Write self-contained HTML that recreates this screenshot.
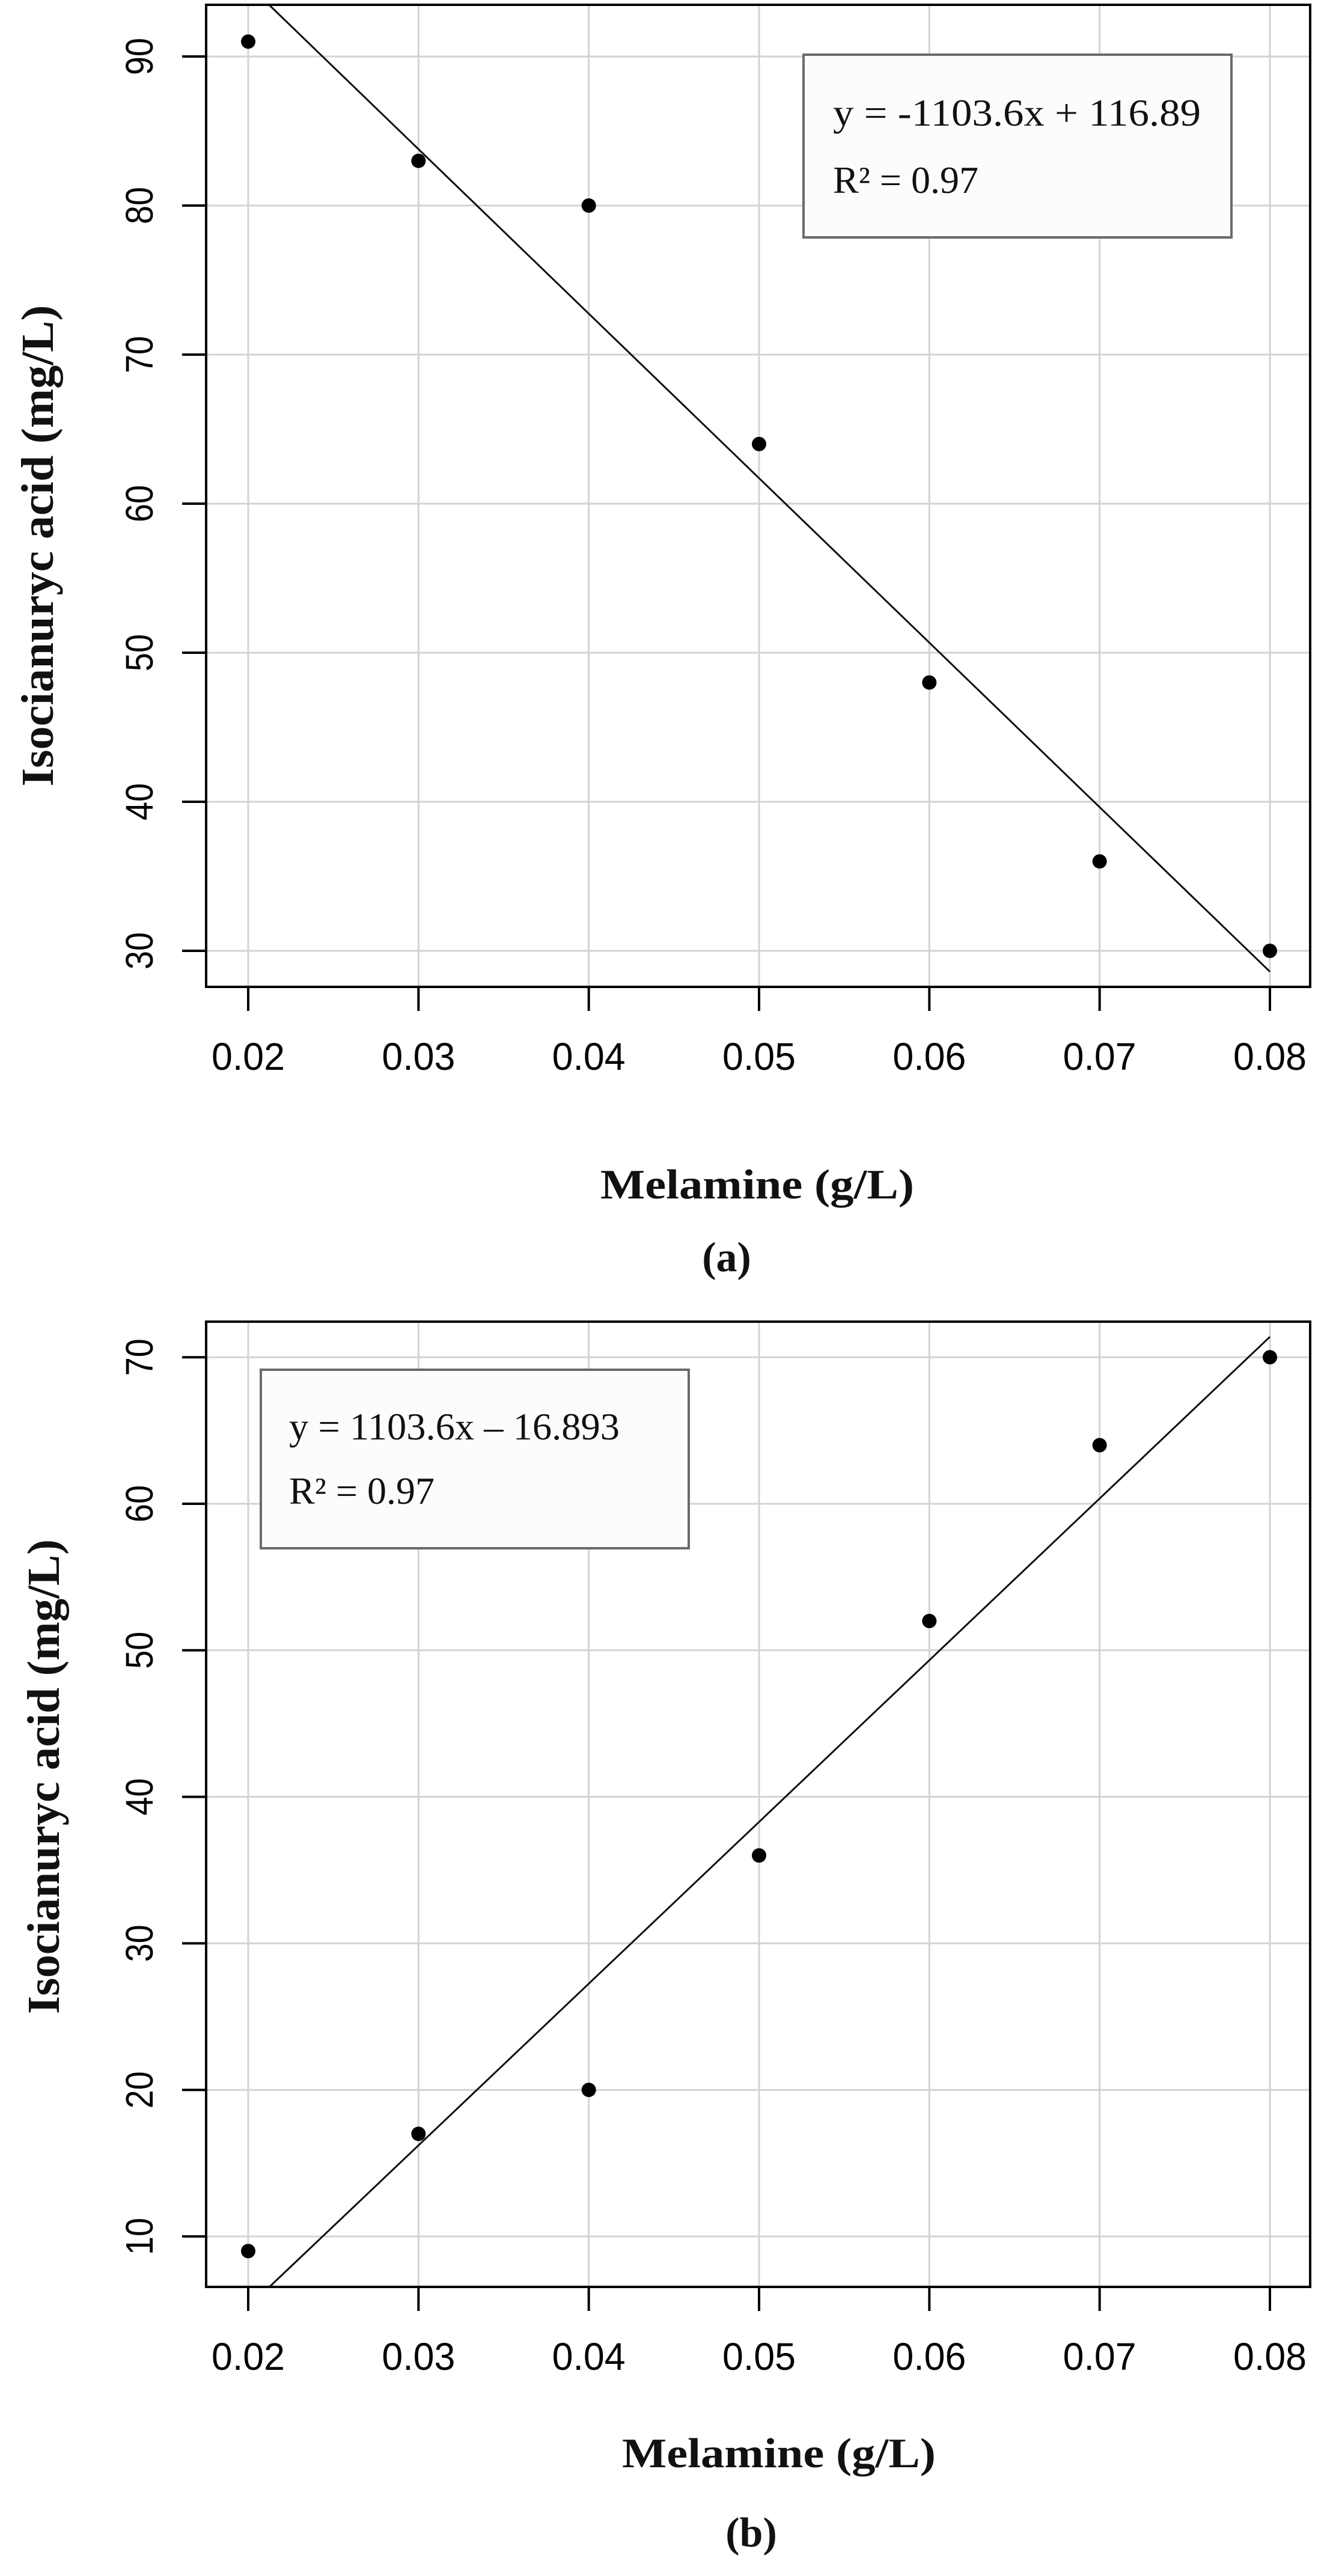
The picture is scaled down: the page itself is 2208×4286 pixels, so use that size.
<!DOCTYPE html>
<html><head><meta charset="utf-8"><style>
html,body{margin:0;padding:0;background:#fff;}
svg{display:block;}
</style></head><body>
<svg id="fig" width="2208" height="4286" viewBox="0 0 2208 4286" xmlns="http://www.w3.org/2000/svg"></svg>
<script>
const xCats = [0.02, 0.03, 0.04, 0.05, 0.06, 0.07, 0.08];
const xTickLabels = ["0.02","0.03","0.04","0.05","0.06","0.07","0.08"];
const seriesA = [91, 83, 80, 64, 48, 36, 30];
const seriesB = [9, 17, 20, 36, 52, 64, 70];
const yTicksA = [30, 40, 50, 60, 70, 80, 90];
const yTicksB = [10, 20, 30, 40, 50, 60, 70];
const fitA = [-1103.6, 116.89];
const fitB = [1103.6, -16.893];

const NS = "http://www.w3.org/2000/svg";
const svg = document.getElementById('fig');
function mk(tag, attrs, parent, text){
  const e = document.createElementNS(NS, tag);
  for (const k in attrs) e.setAttribute(k, attrs[k]);
  if (text !== undefined) e.textContent = text;
  (parent || svg).appendChild(e);
  return e;
}

function panel(cfg){
  const g = mk('g', {});
  
  
  const L = 343, R = 2180, T = cfg.top, B = cfg.bottom;
  const xs = v => 413 + (v - 0.02) / 0.06 * (2113 - 413);
  const ys = v => cfg.y0px + (v - cfg.y0) * cfg.pxPerUnit;
  xCats.forEach(v => {
    const l = mk('line', {x1: xs(v), x2: xs(v), y1: T, y2: B, stroke: '#d3d3d3', 'stroke-width': 3}, g);
    
    
  });
  cfg.yTicks.forEach(v => {
    const l = mk('line', {x1: L, x2: R, y1: ys(v), y2: ys(v), stroke: '#d3d3d3', 'stroke-width': 3}, g);
    
    
  });
  const lb = mk('rect', {x: cfg.leg[0], y: cfg.leg[1], width: cfg.leg[2], height: cfg.leg[3], fill: '#fbfdfd', stroke: '#6a6a6a', 'stroke-width': 4}, g);
  
  
  const t1 = mk('text', {x: cfg.legText[0], y: cfg.legText[1], 'font-family': '"Liberation Serif", serif', 'font-size': 64, textLength: cfg.legText[3], lengthAdjust: 'spacingAndGlyphs', fill: '#111'}, g, cfg.eq);
  
  
  const t2 = mk('text', {x: cfg.legText[0], y: cfg.legText[2], 'font-family': '"Liberation Serif", serif', 'font-size': 64, fill: '#111'}, g, 'R² = 0.97');
  
  
  const [m, c] = cfg.fit;
  const vTop = cfg.y0 + (T - cfg.y0px) / cfg.pxPerUnit;
  const vBot = cfg.y0 + (B - cfg.y0px) / cfg.pxPerUnit;
  const edge = m < 0 ? vTop : vBot;
  const xStart = (edge - c) / m;
  const xEnd = 0.08;
  const fl = mk('line', {x1: xs(xStart), y1: ys(m * xStart + c), x2: xs(xEnd), y2: ys(m * xEnd + c), stroke: '#111', 'stroke-width': 3}, g);
  
  
  cfg.series.forEach((v, i) => {
    const p = mk('circle', {cx: xs(xCats[i]), cy: ys(v), r: 12, fill: '#000'}, g);
    
    
  });
  const ab = mk('rect', {x: L, y: T, width: R - L, height: B - T, fill: 'none', stroke: '#000', 'stroke-width': 4}, g);
  
  
  xCats.forEach((v, i) => {
    const tk = mk('line', {x1: xs(v), x2: xs(v), y1: B, y2: B + 40, stroke: '#000', 'stroke-width': 4}, g);
    
    
    const tl = mk('text', {x: xs(v), y: B + 138, 'text-anchor': 'middle', 'font-family': '"Liberation Sans", sans-serif', 'font-size': 64, textLength: 122, lengthAdjust: 'spacingAndGlyphs', fill: '#000'}, g, xTickLabels[i]);
    
    
  });
  cfg.yTicks.forEach(v => {
    const tk = mk('line', {x1: L - 40, x2: L, y1: ys(v), y2: ys(v), stroke: '#000', 'stroke-width': 4}, g);
    
    
    const tl = mk('text', {x: 0, y: 0, transform: `translate(254,${ys(v)}) rotate(-90)`, 'text-anchor': 'middle', 'font-family': '"Liberation Sans", sans-serif', 'font-size': 64, textLength: 62, lengthAdjust: 'spacingAndGlyphs', fill: '#000'}, g, String(v));
    
    
  });
  const yt = mk('text', {x: 0, y: 0, transform: `translate(${cfg.yTitle[0]},${cfg.yTitle[1]}) rotate(-90)`, 'text-anchor': 'middle', 'font-family': '"Liberation Serif", serif', 'font-weight': 'bold', 'font-size': 76, textLength: cfg.yTitle[2], lengthAdjust: 'spacingAndGlyphs', fill: '#111'}, g, 'Isocianuryc acid (mg/L)');
  
  
  const xt = mk('text', {x: cfg.xTitle[0], y: cfg.xTitle[1], 'text-anchor': 'middle', 'font-family': '"Liberation Serif", serif', 'font-weight': 'bold', 'font-size': 70, textLength: 522, lengthAdjust: 'spacingAndGlyphs', fill: '#111'}, g, 'Melamine (g/L)');
  
  
  const cap = mk('text', {x: cfg.cap[0], y: cfg.cap[1], 'text-anchor': 'middle', 'font-family': '"Liberation Serif", serif', 'font-weight': 'bold', 'font-size': 70, fill: '#111'}, g, cfg.capText);
  
  
}

panel({name: 'panel-a', top: 8, bottom: 1642, y0: 30, y0px: 1582, pxPerUnit: -24.8,
  yTicks: yTicksA, series: seriesA, fit: fitA,
  leg: [1337, 91, 712, 304], legText: [1386, 209, 321, 612], eq: 'y = -1103.6x + 116.89',
  yTitle: [88, 908, 801], xTitle: [1260, 1994], cap: [1209, 2115], capText: '(a)'});
panel({name: 'panel-b', top: 2199, bottom: 3805, y0: 10, y0px: 3721, pxPerUnit: -24.38,
  yTicks: yTicksB, series: seriesB, fit: fitB,
  leg: [434, 2279, 712, 297], legText: [481, 2395, 2502, 550], eq: 'y = 1103.6x – 16.893',
  yTitle: [98, 2956, 790], xTitle: [1296, 4105], cap: [1250, 4237], capText: '(b)'});
</script>
</body></html>
